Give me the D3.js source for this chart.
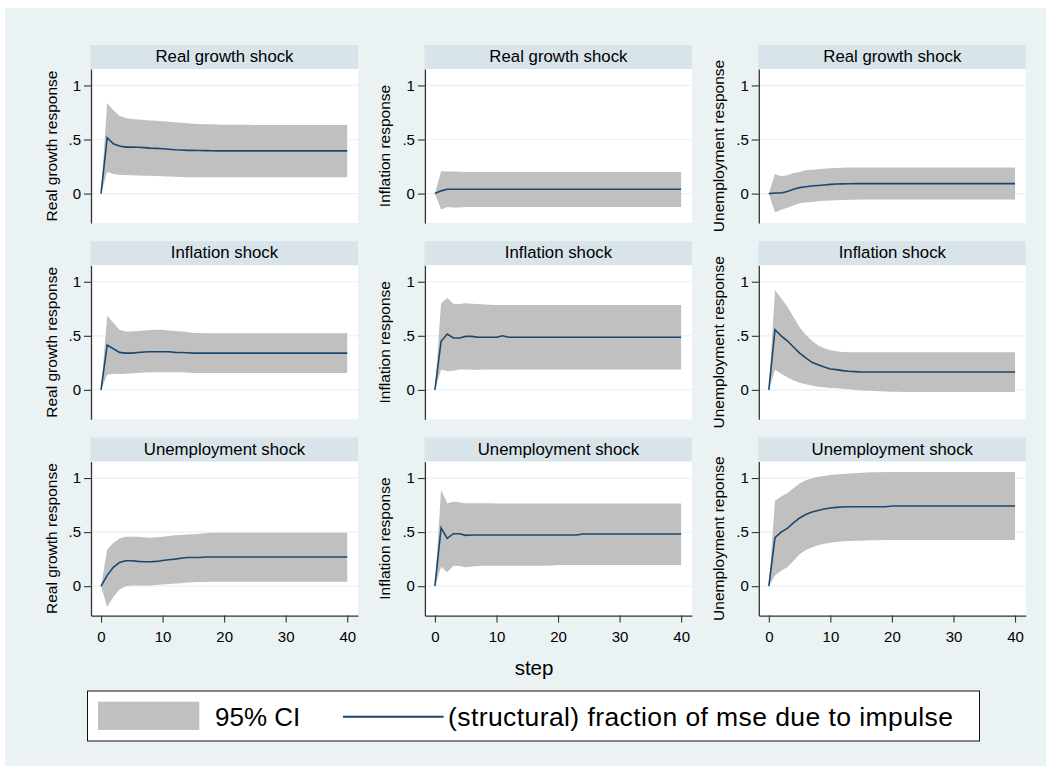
<!DOCTYPE html>
<html><head><meta charset="utf-8">
<script src="https://cdn.jsdelivr.net/npm/d3@7"></script>
<style>body{margin:0;background:#fff}svg{display:block}text{font-family:"Liberation Sans",Arial,Helvetica,sans-serif;fill:#000}</style>
</head><body><svg id="c" width="1051" height="774"></svg>
<script>
// ---------------- data ----------------
const steps = d3.range(0, 41);
const shockTitles = ["Real growth shock", "Inflation shock", "Unemployment shock"];
const responseTitles = [
  ["Real growth response", "Inflation response", "Unemployment response"],
  ["Real growth response", "Inflation response", "Unemployment response"],
  ["Real growth response", "Inflation response", "Unemployment reponse"]
];
const yTicks = [0, 0.5, 1];
const yTickLabels = ["0", ".5", "1"];
const xTicks = [0, 10, 20, 30, 40];
const xTickLabels = ["0", "10", "20", "30", "40"];
const xTitle = "step";
const legendLabels = ["95% CI", "(structural) fraction of mse due to impulse"];

// Real growth shock -> Real growth response
const rg_rg_irf = [0,.517,.46,.44,.43,.43,.428,.425,.42,.418,
  .415,.41,.405,.403,.4,.4,.398,.397,.396,.395,
  .395,.395,.395,.395,.395,.395,.395,.395,.395,.395,
  .395,.395,.395,.395,.395,.395,.395,.395,.395,.395,.395];
const rg_rg_hi = [0,.837,.77,.72,.7,.69,.685,.68,.676,.673,
  .67,.665,.66,.655,.65,.646,.643,.641,.64,.638,
  .637,.637,.636,.636,.636,.635,.635,.635,.635,.635,
  .635,.635,.635,.635,.635,.635,.635,.635,.635,.635,.635];
const rg_rg_lo = [0,.2,.18,.175,.172,.17,.168,.166,.164,.162,
  .16,.158,.156,.154,.152,.15,.15,.15,.15,.15,
  .15,.15,.15,.15,.15,.15,.15,.15,.15,.15,
  .15,.15,.15,.15,.15,.15,.15,.15,.15,.15,.15];

// Real growth shock -> Inflation response
const rg_inf_irf = [0,.025,.04,.04,.04,.04,.04,.04,.04,.04,
  .04,.04,.04,.04,.04,.04,.04,.04,.04,.04,
  .04,.04,.04,.04,.04,.04,.04,.04,.04,.04,
  .04,.04,.04,.04,.04,.04,.04,.04,.04,.04,.04];
const rg_inf_hi = [0,.206,.205,.204,.202,.2,.2,.2,.2,.2,
  .2,.2,.2,.2,.2,.2,.2,.2,.2,.2,
  .2,.2,.2,.2,.2,.2,.2,.2,.2,.2,
  .2,.2,.2,.2,.2,.2,.2,.2,.2,.2,.2];
const rg_inf_lo = [0,-.148,-.125,-.128,-.128,-.125,-.125,-.125,-.125,-.125,
  -.125,-.125,-.125,-.125,-.125,-.125,-.125,-.125,-.125,-.125,
  -.125,-.125,-.125,-.125,-.125,-.125,-.125,-.125,-.125,-.125,
  -.125,-.125,-.125,-.125,-.125,-.125,-.125,-.125,-.125,-.125,-.125];

// Real growth shock -> Unemployment response
const rg_un_irf = [0,.005,.005,.02,.04,.055,.063,.07,.075,.08,
  .085,.088,.09,.091,.092,.092,.092,.092,.092,.092,
  .092,.092,.092,.092,.092,.092,.092,.092,.092,.092,
  .092,.092,.092,.092,.092,.092,.092,.092,.092,.092,.092];
const rg_un_hi = [0,.18,.16,.17,.19,.2,.215,.22,.225,.23,
  .234,.237,.24,.241,.242,.242,.242,.242,.242,.242,
  .242,.242,.242,.242,.242,.242,.242,.242,.242,.242,
  .242,.242,.242,.242,.242,.242,.242,.242,.242,.242,.242];
const rg_un_lo = [0,-.175,-.15,-.13,-.11,-.09,-.083,-.077,-.07,-.067,
  -.065,-.062,-.06,-.058,-.056,-.055,-.055,-.055,-.055,-.055,
  -.055,-.055,-.055,-.055,-.055,-.055,-.055,-.055,-.055,-.055,
  -.055,-.055,-.055,-.055,-.055,-.055,-.055,-.055,-.055,-.055,-.055];

// Inflation shock -> Real growth response
const inf_rg_irf = [0,.415,.38,.347,.34,.34,.345,.35,.352,.352,
  .352,.352,.347,.345,.343,.34,.34,.34,.34,.34,
  .34,.34,.34,.34,.34,.34,.34,.34,.34,.34,
  .34,.34,.34,.34,.34,.34,.34,.34,.34,.34,.34];
const inf_rg_hi = [0,.686,.62,.557,.54,.54,.545,.55,.553,.557,
  .555,.55,.545,.54,.535,.526,.525,.524,.523,.523,
  .523,.523,.523,.523,.523,.523,.523,.523,.523,.523,
  .523,.523,.523,.523,.523,.523,.523,.523,.523,.523,.523];
const inf_rg_lo = [0,.14,.15,.148,.15,.154,.157,.16,.163,.163,
  .163,.163,.163,.162,.16,.157,.157,.157,.157,.157,
  .157,.157,.157,.157,.157,.157,.157,.157,.157,.157,
  .157,.157,.157,.157,.157,.157,.157,.157,.157,.157,.157];

// Inflation shock -> Inflation response
const inf_inf_irf = [0,.45,.517,.48,.48,.495,.495,.486,.486,.486,
  .486,.5,.486,.486,.486,.486,.486,.486,.486,.486,
  .486,.486,.486,.486,.486,.486,.486,.486,.486,.486,
  .486,.486,.486,.486,.486,.486,.486,.486,.486,.486,.486];
const inf_inf_hi = [0,.8,.85,.797,.794,.8,.797,.794,.79,.788,
  .785,.785,.785,.785,.785,.785,.785,.785,.785,.785,
  .785,.785,.785,.785,.785,.785,.785,.785,.785,.785,
  .785,.785,.785,.785,.785,.785,.785,.785,.785,.785,.785];
const inf_inf_lo = [0,.188,.172,.178,.188,.188,.186,.187,.188,.188,
  .188,.188,.188,.188,.188,.188,.188,.188,.188,.188,
  .188,.188,.188,.188,.188,.188,.188,.188,.188,.188,
  .188,.188,.188,.188,.188,.188,.188,.188,.188,.188,.188];

// Inflation shock -> Unemployment response
const inf_un_irf = [0,.557,.5,.454,.397,.34,.295,.255,.233,.212,
  .193,.187,.178,.172,.169,.166,.166,.166,.166,.166,
  .166,.166,.166,.166,.166,.166,.166,.166,.166,.166,
  .166,.166,.166,.166,.166,.166,.166,.166,.166,.166,.166];
const inf_un_hi = [0,.923,.847,.77,.674,.58,.51,.455,.41,.385,
  .366,.357,.35,.349,.348,.348,.348,.348,.348,.348,
  .348,.348,.348,.348,.348,.348,.348,.348,.348,.348,
  .348,.348,.348,.348,.348,.348,.348,.348,.348,.348,.348];
const inf_un_lo = [0,.187,.15,.117,.086,.065,.052,.04,.03,.024,
  .018,.014,.01,.005,0,-.005,-.008,-.01,-.013,-.015,
  -.018,-.018,-.019,-.019,-.02,-.02,-.02,-.02,-.02,-.02,
  -.02,-.02,-.02,-.02,-.02,-.02,-.02,-.02,-.02,-.02,-.02];

// Unemployment shock -> Real growth response
const un_rg_irf = [0,.1,.174,.22,.235,.235,.229,.226,.226,.229,
  .238,.244,.25,.258,.265,.265,.265,.27,.27,.27,
  .27,.27,.27,.27,.27,.27,.27,.27,.27,.27,
  .27,.27,.27,.27,.27,.27,.27,.27,.27,.27,.27];
const un_rg_hi = [0,.34,.4,.44,.457,.457,.457,.452,.448,.452,
  .457,.463,.47,.474,.477,.48,.485,.49,.494,.494,
  .494,.494,.494,.494,.494,.494,.494,.494,.494,.494,
  .494,.494,.494,.494,.494,.494,.494,.494,.494,.494,.494];
const un_rg_lo = [0,-.192,-.1,-.03,0,.006,.006,.006,.006,.01,
  .015,.02,.024,.028,.033,.037,.038,.039,.04,.04,
  .04,.04,.04,.04,.04,.04,.04,.04,.04,.04,
  .04,.04,.04,.04,.04,.04,.04,.04,.04,.04,.04];

// Unemployment shock -> Inflation response
const un_inf_irf = [0,.54,.442,.485,.485,.47,.473,.473,.473,.473,
  .473,.473,.473,.473,.473,.473,.473,.473,.473,.473,
  .473,.473,.473,.473,.482,.482,.482,.482,.482,.482,
  .482,.482,.482,.482,.482,.482,.482,.482,.482,.482,.482];
const un_inf_hi = [0,.89,.768,.78,.777,.768,.768,.768,.768,.767,
  .765,.765,.765,.765,.765,.765,.765,.765,.765,.765,
  .765,.765,.765,.765,.765,.765,.765,.765,.765,.765,
  .765,.765,.765,.765,.765,.765,.765,.765,.765,.765,.765];
const un_inf_lo = [0,.18,.128,.189,.186,.174,.183,.186,.189,.189,
  .189,.189,.189,.189,.189,.189,.189,.189,.19,.192,
  .195,.195,.195,.195,.195,.195,.195,.195,.195,.195,
  .195,.195,.195,.195,.195,.195,.195,.195,.195,.195,.195];

// Unemployment shock -> Unemployment response
const un_un_irf = [0,.448,.5,.534,.585,.631,.662,.686,.7,.713,
  .723,.729,.732,.734,.735,.735,.735,.735,.735,.735,
  .741,.741,.741,.741,.741,.741,.741,.741,.741,.741,
  .741,.741,.741,.741,.741,.741,.741,.741,.741,.741,.741];
const un_un_hi = [0,.79,.83,.86,.905,.95,.98,.997,1.012,1.02,
  1.027,1.032,1.037,1.041,1.045,1.049,1.051,1.053,1.054,1.055,
  1.055,1.055,1.055,1.055,1.055,1.055,1.055,1.055,1.055,1.055,
  1.055,1.055,1.055,1.055,1.055,1.055,1.055,1.055,1.055,1.055,1.055];
const un_un_lo = [0,.098,.143,.174,.235,.296,.335,.357,.378,.393,
  .402,.408,.415,.417,.419,.42,.422,.424,.425,.426,
  .427,.427,.427,.427,.427,.427,.427,.427,.427,.427,
  .427,.427,.427,.427,.427,.427,.427,.427,.427,.427,.427];

const panelData = [
  [[rg_rg_irf, rg_rg_lo, rg_rg_hi], [rg_inf_irf, rg_inf_lo, rg_inf_hi], [rg_un_irf, rg_un_lo, rg_un_hi]],
  [[inf_rg_irf, inf_rg_lo, inf_rg_hi], [inf_inf_irf, inf_inf_lo, inf_inf_hi], [inf_un_irf, inf_un_lo, inf_un_hi]],
  [[un_rg_irf, un_rg_lo, un_rg_hi], [un_inf_irf, un_inf_lo, un_inf_hi], [un_un_irf, un_un_lo, un_un_hi]]
];

// ---------------- layout ----------------
const W = 1051, H = 774;
const svg = d3.select("#c");
const colBG = "#eaf2f3", colStrip = "#d8e4ea", colCI = "#c0c0c0", colLine = "#1a476f", colGrid = "#eaf2f3";

svg.append("rect").attr("x", 0).attr("y", 0).attr("width", W).attr("height", H).attr("fill", "#fff");
svg.append("rect").attr("x", 5).attr("y", 8).attr("width", 1041).attr("height", 758).attr("fill", colBG);

const plotW = 267, plotH = 154, stripH = 24;
const colX = [91, 424.9, 758.8];
const rowY = [69, 265.3, 461.6];

const x = d3.scaleLinear().domain([-1.63, 41.75]).range([0, plotW]);
const y = d3.scaleLinear().domain([-0.272, 1.152]).range([plotH, 0]);

const area = d3.area().x(d => x(d.s)).y0(d => y(d.lo)).y1(d => y(d.hi));
const line = d3.line().x(d => x(d.s)).y(d => y(d.v));

for (let r = 0; r < 3; r++) {
  for (let c = 0; c < 3; c++) {
    const [irf, lo, hi] = panelData[r][c];
    const g = svg.append("g").attr("transform", `translate(${colX[c]},${rowY[r]})`);
    // strip
    g.append("rect").attr("x", -0.5).attr("y", -stripH).attr("width", plotW + 0.5).attr("height", stripH).attr("fill", colStrip);
    g.append("text").attr("x", plotW / 2).attr("y", -stripH + 17).attr("text-anchor", "middle")
      .style("font-size", "16.8px").text(shockTitles[r]);
    // plot region
    g.append("rect").attr("width", plotW).attr("height", plotH).attr("fill", "#fff");
    g.selectAll("line.grid").data(yTicks).join("line").attr("class", "grid")
      .attr("x1", 0).attr("x2", plotW).attr("y1", d => y(d)).attr("y2", d => y(d))
      .attr("stroke", colGrid).attr("stroke-width", 1.2);
    const pts = steps.map((s, i) => ({ s, v: irf[i], lo: lo[i], hi: hi[i] }));
    g.append("path").datum(pts).attr("d", area).attr("fill", colCI);
    g.append("path").datum(pts).attr("d", line).attr("fill", "none").attr("stroke", colLine).attr("stroke-width", 1.6);
    // y axis
    const ya = g.append("g").call(d3.axisLeft(y).tickValues(yTicks).tickFormat((d, i) => yTickLabels[i])
      .tickSize(7).tickSizeOuter(0).tickPadding(3));
    ya.select(".domain").attr("stroke", "#333").attr("stroke-width", 1.3);
    ya.selectAll(".tick line").attr("stroke", "#333").attr("stroke-width", 1.1);
    ya.selectAll(".tick text").style("font-size", "15px").attr("fill", "#000");
    g.append("text").attr("transform", `translate(-34.5,${plotH / 2}) rotate(-90)`)
      .attr("text-anchor", "middle").style("font-size", "15.5px").text(responseTitles[r][c]);
    if (r === 2) {
      const xa = g.append("g").attr("transform", `translate(0,${plotH})`)
        .call(d3.axisBottom(x).tickValues(xTicks).tickFormat((d, i) => xTickLabels[i])
          .tickSize(7).tickSizeOuter(0).tickPadding(9));
      xa.select(".domain").attr("stroke", "#333").attr("stroke-width", 1.3);
      xa.selectAll(".tick line").attr("stroke", "#333").attr("stroke-width", 1.1);
      xa.selectAll(".tick text").style("font-size", "15px").attr("fill", "#000");
    }
  }
}

// x title
svg.append("text").attr("x", 534).attr("y", 675).attr("text-anchor", "middle").style("font-size", "20.5px").text(xTitle);

// legend
const lg = svg.append("g");
lg.append("rect").attr("x", 87.5).attr("y", 691).attr("width", 892).attr("height", 50)
  .attr("fill", "#fff").attr("stroke", "#111").attr("stroke-width", 1);
lg.append("rect").attr("x", 98).attr("y", 701.7).attr("width", 101.3).attr("height", 28.3).attr("fill", colCI);
lg.append("text").attr("x", 215).attr("y", 726).style("font-size", "26px").text(legendLabels[0]);
lg.append("line").attr("x1", 343).attr("x2", 443.6).attr("y1", 716.7).attr("y2", 716.7)
  .attr("stroke", colLine).attr("stroke-width", 2);
lg.append("text").attr("x", 448).attr("y", 726).style("font-size", "26.5px")
  .attr("textLength", 505).attr("lengthAdjust", "spacing").text(legendLabels[1]);
</script>
</body></html>
